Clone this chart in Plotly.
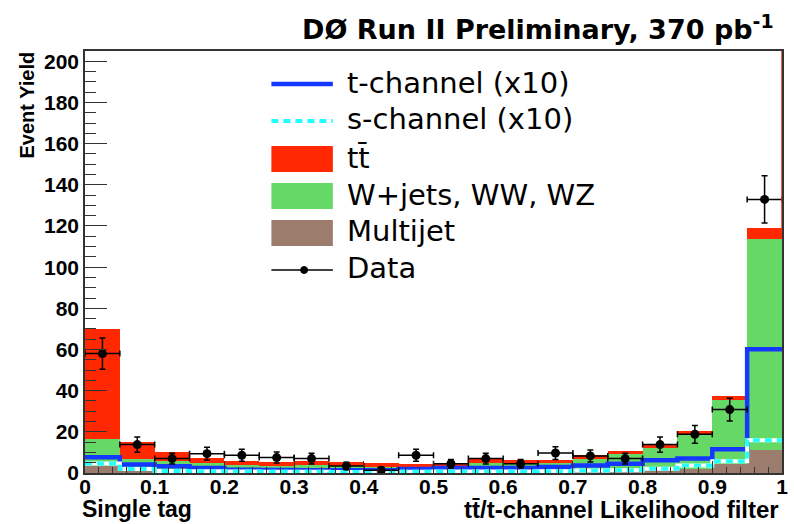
import plotly.graph_objects as go

# ---------------- data ----------------
bin_lo = [0.00, 0.05, 0.10, 0.15, 0.20, 0.25, 0.30, 0.35, 0.40, 0.45,
          0.50, 0.55, 0.60, 0.65, 0.70, 0.75, 0.80, 0.85, 0.90, 0.95]
bin_w = 0.05
x_max = 1.0

multijet = [3.3, 1.3, 1.0, 1.0, 0.8, 0.8, 0.8, 0.7, 0.7, 0.7,
            0.8, 0.8, 0.8, 0.9, 1.0, 1.2, 1.5, 2.1, 4.5, 11.0]
wjets = [13.4, 5.7, 4.7, 4.0, 2.9, 2.7, 3.0, 2.6, 2.3, 2.3,
         2.7, 4.2, 3.7, 4.1, 6.0, 7.9, 10.7, 16.2, 30.8, 102.9]
ttbar = [53.1, 8.1, 4.5, 2.5, 2.1, 2.0, 2.2, 2.1, 1.9, 1.5,
         1.5, 1.8, 1.8, 1.3, 1.6, 1.6, 1.6, 2.1, 2.1, 4.9]
tchan_x10 = [7.6, 4.1, 3.3, 2.4, 1.6, 1.5, 1.3, 1.3, 1.3, 2.0,
             2.4, 2.4, 2.4, 2.9, 3.7, 4.5, 6.2, 7.0, 11.5, 60.1]
schan_x10 = [4.6, 2.0, 1.0, 0.8, 0.7, 0.6, 0.6, 0.5, 0.5, 0.6,
             0.7, 0.7, 0.7, 0.8, 1.2, 1.3, 2.1, 3.7, 5.7, 15.9]
data = [58.0, 13.8, 7.0, 9.4, 8.6, 7.5, 7.0, 3.4, 1.3, 8.6,
        4.5, 7.0, 4.5, 9.7, 8.3, 7.0, 13.8, 18.8, 30.8, 132.9]
data_err = [7.6, 3.7, 2.6, 3.1, 2.9, 2.7, 2.6, 1.8, 1.5, 2.9,
            2.1, 2.6, 2.1, 3.1, 2.9, 2.6, 3.7, 4.3, 5.5, 11.5]

Y_MAX = 205

# ---------------- style ----------------
C_MJ = "#9c7c6c"
C_W = "#66d866"
C_TT = "#ff2800"
C_T = "#1438ff"
C_S = "#22ffff"
AX = "#333333"

centers = [lo + bin_w / 2 for lo in bin_lo]
edges = bin_lo + [x_max]

fig = go.Figure()
fig.add_bar(x=centers, y=multijet, width=bin_w, marker=dict(color=C_MJ, line_width=0), name="Multijet")
fig.add_bar(x=centers, y=wjets, width=bin_w, marker=dict(color=C_W, line_width=0), name="W+jets, WW, WZ")
fig.add_bar(x=centers, y=ttbar, width=bin_w, marker=dict(color=C_TT, line_width=0), name="tt")

fig.add_scatter(x=edges, y=tchan_x10 + [tchan_x10[-1]], mode="lines",
                line=dict(color=C_T, width=4.5, shape="hv"), name="t-channel (x10)")
fig.add_scatter(x=edges, y=schan_x10 + [schan_x10[-1]], mode="lines",
                line=dict(color="white", width=4, shape="hv"), hoverinfo="skip", name="s-channel bg")
fig.add_scatter(x=edges, y=schan_x10 + [schan_x10[-1]], mode="lines",
                line=dict(color=C_S, width=4, shape="hv", dash="7px,5px"), name="s-channel (x10)")

fig.add_scatter(x=centers, y=data, mode="markers", name="Data",
                marker=dict(color="black", size=9),
                error_x=dict(type="constant", value=bin_w / 2, color="black", thickness=1.5, width=3),
                error_y=dict(type="data", array=data_err, color="black", thickness=1.5, width=3))

# ---------------- layout ----------------
L, R, T, B = 85, 6, 51, 51
W, H = 794, 524
PW, PH = W - L - R, H - T - B


def px(x):
    return (x - L) / PW


def py(y):
    return (H - B - y) / PH


tick_font = dict(family="Liberation Sans", size=21, color="black", weight="bold")

fig.update_layout(
    width=W, height=H, margin=dict(l=L, r=R, t=T, b=B),
    paper_bgcolor="white", plot_bgcolor="white",
    barmode="stack", bargap=0, showlegend=False,
    xaxis=dict(range=[0, x_max], dtick=0.1, tick0=0, ticks="inside", ticklen=12, tickwidth=1,
               tickcolor=AX, showline=True, linecolor=AX, linewidth=1.5, mirror=True,
               showgrid=False, zeroline=False, tickfont=tick_font, ticklabelstandoff=-6,
               minor=dict(dtick=0.02, ticklen=6, ticks="inside", tickcolor=AX, tickwidth=1, showgrid=False)),
    yaxis=dict(range=[0, Y_MAX], dtick=20, tick0=0, ticks="inside", ticklen=22, tickwidth=1,
               tickcolor=AX, showline=True, linecolor=AX, linewidth=1.5, mirror=True,
               showgrid=False, zeroline=False, tickfont=tick_font,
               minor=dict(dtick=5, ticklen=11, ticks="inside", tickcolor=AX, tickwidth=1, showgrid=False)),
)

ann = []
ann.append(dict(text="DØ Run II Preliminary, 370 pb<sup>-1</sup>", xref="paper", yref="paper",
                x=px(782), y=py(27), xanchor="right", yanchor="middle", showarrow=False,
                font=dict(family="DejaVu Sans", size=27, color="black", weight="bold")))
ann.append(dict(text="Event Yield", xref="paper", yref="paper", x=px(27), y=py(105),
                xanchor="center", yanchor="middle", textangle=-90, showarrow=False,
                font=dict(family="Liberation Sans", size=20, color="black", weight="bold")))
ann.append(dict(text="Single tag", xref="paper", yref="paper", x=px(81), y=py(509),
                xanchor="left", yanchor="middle", showarrow=False, borderpad=0,
                font=dict(family="Liberation Sans", size=23, color="black", weight="bold")))
ann.append(dict(text="tt\u0304/t-channel Likelihood filter", xref="paper", yref="paper", x=px(786), y=py(509),
                xanchor="right", yanchor="middle", showarrow=False, borderpad=0,
                font=dict(family="Liberation Sans", size=24, color="black", weight="bold")))

# manual legend
leg_font = dict(family="DejaVu Sans", size=29, color="black")
leg_items = [("t-channel (x10)", 83), ("s-channel (x10)", 119), ("tt\u0304", 158),
             ("W+jets, WW, WZ", 195), ("Multijet", 231), ("Data", 268)]
for txt, yc in leg_items:
    ann.append(dict(text=txt, xref="paper", yref="paper", x=px(347), y=py(yc),
                    xanchor="left", yanchor="middle", showarrow=False, font=leg_font))

shapes = []
sx0, sx1 = px(273), px(335)
shapes.append(dict(type="line", xref="paper", yref="paper", x0=sx0, x1=sx1, y0=py(84), y1=py(84),
                   line=dict(color=C_T, width=4.5)))
shapes.append(dict(type="line", xref="paper", yref="paper", x0=sx0, x1=sx1, y0=py(121), y1=py(121),
                   line=dict(color=C_S, width=4, dash="7px,5px")))
for col, yc in [(C_TT, 159), (C_W, 196), (C_MJ, 233)]:
    shapes.append(dict(type="rect", xref="paper", yref="paper", x0=sx0, x1=sx1,
                       y0=py(yc + 13), y1=py(yc - 13), fillcolor=col, line=dict(width=0)))
shapes.append(dict(type="line", xref="paper", yref="paper", x0=sx0, x1=sx1, y0=py(270), y1=py(270),
                   line=dict(color="black", width=1.5)))
shapes.append(dict(type="circle", xref="paper", yref="paper", x0=px(302.5), x1=px(309.5),
                   y0=py(273.5), y1=py(266.5), fillcolor="black", line=dict(color="black", width=1)))

# red edge of the last tt bin up to the frame top
last_total = multijet[-1] + wjets[-1] + ttbar[-1]
shapes.append(dict(type="line", xref="x", yref="y", x0=x_max, x1=x_max, y0=last_total, y1=Y_MAX,
                   line=dict(color=C_TT, width=1.5)))

fig.update_layout(annotations=ann, shapes=shapes)

fig.write_html("out.html")
